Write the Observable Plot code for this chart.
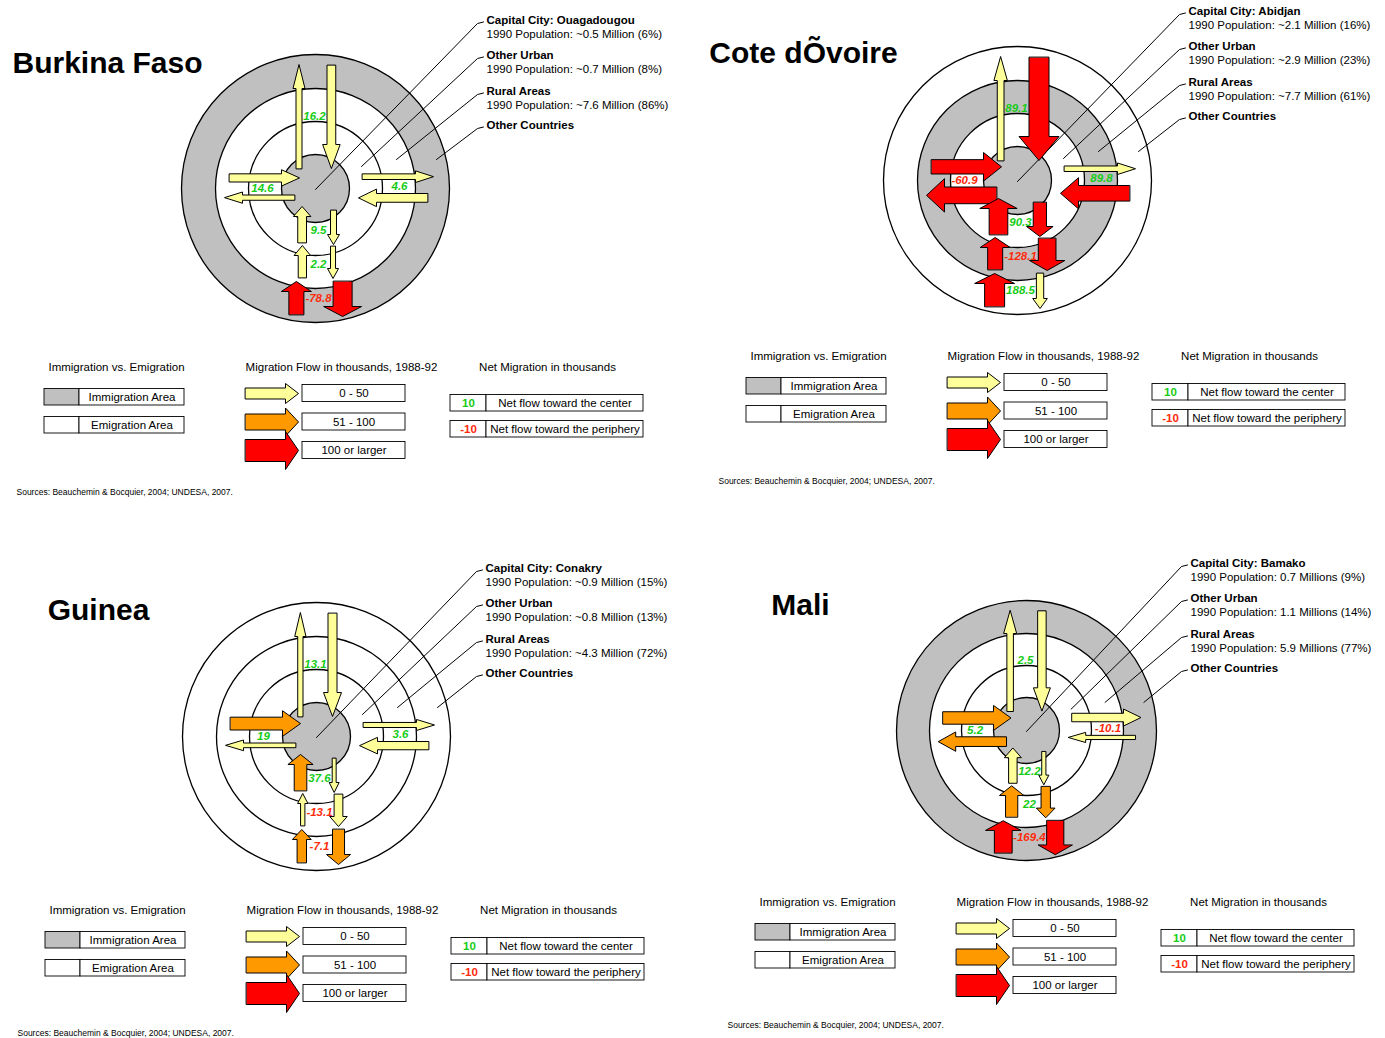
<!DOCTYPE html>
<html><head><meta charset="utf-8">
<script src="https://cdn.jsdelivr.net/npm/d3@7"></script>
<script src="https://cdn.jsdelivr.net/npm/@observablehq/plot@0.6"></script>
<style>body{margin:0;background:#fff;} svg{display:block;}</style>
</head><body><div id="chart"></div>
<script>
// ---------------- DATA ----------------
const countries = ["Burkina Faso", "Cote dÕvoire", "Guinea", "Mali"];
const capitals = ["Ouagadougou", "Abidjan", "Conakry", "Bamako"];
const areaNames = ["Capital City", "Other Urban", "Rural Areas", "Other Countries"];
const links = ["Capital–Other Countries", "Capital–Rural Areas", "Other Urban–Other Countries",
               "Capital–Other Urban", "Other Urban–Rural Areas", "Rural Areas–Other Countries"];

// Immigration / Emigration status of [capital, other urban, rural, other countries]
const statusBurkina = ["Immigration", "Emigration", "Emigration", "Immigration"];
const statusCote    = ["Immigration", "Emigration", "Immigration", "Emigration"];
const statusGuinea  = ["Immigration", "Emigration", "Emigration", "Emigration"];
const statusMali    = ["Immigration", "Emigration", "Emigration", "Immigration"];

// 1990 population labels [capital, other urban, rural]
const popBurkina = ["~0.5 Million (6%)", "~0.7 Million (8%)", "~7.6 Million (86%)"];
const popCote    = ["~2.1 Million (16%)", "~2.9 Million (23%)", "~7.7 Million (61%)"];
const popGuinea  = ["~0.9 Million (15%)", "~0.8 Million (13%)", "~4.3 Million (72%)"];
const popMali    = ["0.7 Millions (9%)", "1.1 Millions (14%)", "5.9 Millions (77%)"];

// migration flows (thousands, 1988-92) per link: toward the center / toward the periphery
const inBurkina  = [48, 43, 48, 48, 44, 129];
const outBurkina = [25, 19, 22, 25, 17, 186];
const netBurkina = [16.2, 14.6, 4.6, 9.5, 2.2, -78.8];

const inCote  = [200, 119, 137, 181, 129, 200];
const outCote = [31, 153, 21, 104, 167, 36];
const netCote = [89.1, -60.9, 89.8, 90.3, -128.1, 188.5];

const inGuinea  = [50, 98, 44, 95, 11, 55];
const outGuinea = [19, 14, 17, 8, 48, 88];
const netGuinea = [13.1, 19, 3.6, 37.6, -13.1, -7.1];

const inMali  = [48, 98, 11, 48, 95, 176];
const outMali = [31, 62, 48, 11, 58, 167];
const netMali = [2.5, 5.2, -10.1, 12.2, 22, -169.4];

const flowClasses = ["0 - 50", "51 - 100", "100 or larger"];
const flowBreaks = [50.5, 100.5];
const netExamples = [10, -10];
const netLabels = ["Net flow toward the center", "Net flow toward the periphery"];
const statusLabels = ["Immigration Area", "Emigration Area"];
const source = "Sources: Beauchemin & Bocquier, 2004; UNDESA, 2007.";

// ---------------- LAYOUT ----------------
const YELLOW = "#ffff99", ORANGE = "#ff9900", RED = "#ff0000", GRAY = "#c0c0c0";
const GREEN = "#16cc16", NEG = "#ff2a0a";
const LABEL_FS = 11.5;
const flowColor = d3.scaleThreshold().domain(flowBreaks).range([YELLOW, ORANGE, RED]);
const flowWidth = d3.scaleLinear().domain([0, 50, 100, 200]).range([3, 9, 13, 20]).clamp(true);
const textWidth = t => [...t].reduce((a, c) => a + (c === "." ? 0.278 : c === "-" ? 0.333 : 0.556), 0) * LABEL_FS;

const panels = [
  {cx: 315, cy: 188, s: 1, titleX: 107, titleY: 63, tx: 486, ty: 20, ly: 367, srcY: 492,
   status: statusBurkina, pop: popBurkina, inF: inBurkina, outF: outBurkina, net: netBurkina},
  {cx: 1017, cy: 180, s: 1, titleX: 803, titleY: 53, tx: 1188, ty: 11, ly: 356, srcY: 481,
   status: statusCote, pop: popCote, inF: inCote, outF: outCote, net: netCote},
  {cx: 316, cy: 736, s: 1, titleX: 98, titleY: 610, tx: 485, ty: 568, ly: 910, srcY: 1032.5,
   status: statusGuinea, pop: popGuinea, inF: inGuinea, outF: outGuinea, net: netGuinea},
  {cx: 1026, cy: 730, s: 0.97, titleX: 800, titleY: 605, tx: 1190, ty: 563, ly: 902, srcY: 1025,
   status: statusMali, pop: popMali, inF: inMali, outF: outMali, net: netMali}
];
const ringR = [34, 67, 100, 134];
const geom = [
  {axis: "y", sign: -1, lat0: -1, gap: 12.5, inR: [123, 20], outR: [20, 124], hl: 24, inSide: 1, label: [-1, -72], fit: false},
  {axis: "x", sign: -1, lat0: 0, gap: 6.5, inR: [86, 16], outR: [21, 91], hl: 18, inSide: -1, label: [-53, 0], fit: false},
  {axis: "x", sign: 1, lat0: -2, gap: 7, inR: [112, 43], outR: [47, 118], hl: 18, inSide: 1, label: [84, -2], fit: false},
  {axis: "y", sign: 1, lat0: 3, gap: 12, inR: [54, 18], outR: [22, 56], hl: 10, inSide: -1, label: [3, 42], fit: true},
  {axis: "y", sign: 1, lat0: 3, gap: 12, inR: [89, 57], outR: [58, 90], hl: 10, inSide: -1, label: [3, 76], fit: true},
  {axis: "y", sign: 1, lat0: 3, gap: 13, inR: [126, 93], outR: [93, 128], hl: 10, inSide: -1, label: [3, 110], fit: true}
];
const leaderStart = [[0, 1], [46, -22], [81, -29], [121, -29]];
const textOffsets = [0, 35, 71, 105];

function arrowPoints(id, x0, y0, x1, y1, w, hw, hl, fill) {
  const L = Math.hypot(x1 - x0, y1 - y0);
  const ux = (x1 - x0) / L, uy = (y1 - y0) / L, nx = -uy, ny = ux;
  const kx = x1 - ux * hl, ky = y1 - uy * hl;
  return [
    [x0 + nx * w / 2, y0 + ny * w / 2], [kx + nx * w / 2, ky + ny * w / 2], [kx + nx * hw, ky + ny * hw],
    [x1, y1], [kx - nx * hw, ky - ny * hw], [kx - nx * w / 2, ky - ny * w / 2], [x0 - nx * w / 2, y0 - ny * w / 2]
  ].map(([x, y]) => ({id, x, y, fill}));
}

const rings = [], arrows = [], netText = [], titles = [], infoText = [], leaders = [];
const legendRects = [], legendText = [], legendBold = [], legendArrows = [], headings = [], sources = [];

panels.forEach((p, pi) => {
  const {cx, cy, s} = p;
  titles.push({x: p.titleX, y: p.titleY, text: countries[pi]});
  for (let k = 3; k >= 0; k--) rings.push({x: cx, y: cy, r: ringR[k] * s, fill: p.status[k] === "Immigration" ? GRAY : "white"});
  geom.forEach((g, li) => {
    const v = p.net[li];
    const label = String(v);
    const gap = g.fit ? Math.max(g.gap, textWidth(label) / 2 + 1.5) : g.gap;
    [["in", p.inF[li], g.inR, g.inSide], ["out", p.outF[li], g.outR, -g.inSide]].forEach(([dir, f, R, side]) => {
      const w = flowWidth(f) * s;
      const lat = (g.lat0 + side * (gap + flowWidth(f) / 2)) * s;
      let x0, y0, x1, y1;
      if (g.axis === "y") { x0 = x1 = cx + lat; y0 = cy + g.sign * R[0] * s; y1 = cy + g.sign * R[1] * s; }
      else { y0 = y1 = cy + lat; x0 = cx + g.sign * R[0] * s; x1 = cx + g.sign * R[1] * s; }
      arrows.push(...arrowPoints(`${pi}-${li}-${dir}`, x0, y0, x1, y1, w, Math.max(w, w / 2 + 3), g.hl * s, flowColor(f)));
    });
    netText.push({x: cx + g.label[0] * s, y: cy + g.label[1] * s, text: label, fill: v >= 0 ? GREEN : NEG});
  });
  // area descriptions + leader lines
  areaNames.forEach((name, k) => {
    const yk = p.ty + textOffsets[k];
    infoText.push({x: p.tx, y: yk, text: k === 0 ? `${name}: ${capitals[pi]}` : name, bold: true});
    if (k < 3) infoText.push({x: p.tx, y: yk + 14, text: `1990 Population: ${p.pop[k]}`, bold: false});
    const id = `${pi}-L${k}`;
    leaders.push({id, x: cx + leaderStart[k][0] * s, y: cy + leaderStart[k][1] * s},
                 {id, x: p.tx - 9, y: yk + 3}, {id, x: p.tx - 3, y: yk + 1.5});
  });
  // legends
  const ly = p.ly;
  headings.push({x: cx - 199, y: ly, text: "Immigration vs. Emigration"},
                {x: cx + 26, y: ly, text: "Migration Flow in thousands, 1988-92"},
                {x: cx + 232, y: ly, text: "Net Migration in thousands"});
  statusLabels.forEach((lab, i) => {
    const y1 = ly + 21.5 + i * 28, y2 = y1 + 16.5;
    legendRects.push({x1: cx - 271, x2: cx - 236, y1, y2, fill: i === 0 ? GRAY : "white"},
                     {x1: cx - 236, x2: cx - 131, y1, y2, fill: "white"});
    legendText.push({x: cx - 183.5, y: (y1 + y2) / 2, text: lab});
  });
  const shafts = [11, 16, 22], heads = [20, 28, 38];
  flowClasses.forEach((lab, i) => {
    const y1 = ly + 17.5 + i * 28.5, y2 = y1 + 17, yc = (y1 + y2) / 2;
    legendRects.push({x1: cx - 13, x2: cx + 90, y1, y2, fill: "white"});
    legendText.push({x: cx + 38.5, y: yc, text: lab});
    legendArrows.push(...arrowPoints(`${pi}-leg${i}`, cx - 70, yc, cx - 17, yc, shafts[i], heads[i] / 2, 13, [YELLOW, ORANGE, RED][i]));
  });
  netExamples.forEach((v, i) => {
    const y1 = ly + 27.5 + i * 26, y2 = y1 + 16.5, yc = (y1 + y2) / 2;
    legendRects.push({x1: cx + 135, x2: cx + 171, y1, y2, fill: "white"},
                     {x1: cx + 171, x2: cx + 328, y1, y2, fill: "white"});
    legendBold.push({x: cx + 153, y: yc, text: String(v), fill: v >= 0 ? GREEN : NEG});
    legendText.push({x: cx + 249.5, y: yc, text: netLabels[i]});
  });
  sources.push({x: cx - 299, y: p.srcY, text: source});
});

const chart = Plot.plot({
  width: 1385, height: 1038, margin: 0,
  x: {domain: [0, 1385], range: [0, 1385], axis: null},
  y: {domain: [0, 1038], range: [0, 1038], axis: null},
  r: {type: "identity"},
  color: {type: "identity"},
  style: {fontFamily: "'Liberation Sans', Arial, sans-serif", background: "white"},
  marks: [
    Plot.dot(rings, {x: "x", y: "y", r: "r", fill: "fill", stroke: "black", strokeWidth: 1.3}),
    Plot.line(leaders, {x: "x", y: "y", z: "id", stroke: "black", strokeWidth: 1}),
    Plot.line(arrows, {x: "x", y: "y", z: "id", fill: "fill", stroke: "black", strokeWidth: 1, curve: "linear-closed", strokeLinejoin: "miter"}),
    Plot.text(netText, {x: "x", y: "y", text: "text", fill: "fill", fontSize: LABEL_FS, fontWeight: "bold", fontStyle: "italic"}),
    Plot.text(titles, {x: "x", y: "y", text: "text", fontSize: 30, fontWeight: "bold", fill: "black"}),
    Plot.text(infoText.filter(d => d.bold), {x: "x", y: "y", text: "text", textAnchor: "start", fontSize: 11.5, fontWeight: "bold", fill: "black"}),
    Plot.text(infoText.filter(d => !d.bold), {x: "x", y: "y", text: "text", textAnchor: "start", fontSize: 11.5, fill: "black"}),
    Plot.text(headings, {x: "x", y: "y", text: "text", fontSize: 11.5, fill: "black"}),
    Plot.rect(legendRects, {x1: "x1", x2: "x2", y1: "y1", y2: "y2", fill: "fill", stroke: "black", strokeWidth: 0.9}),
    Plot.line(legendArrows, {x: "x", y: "y", z: "id", fill: "fill", stroke: "black", strokeWidth: 1, curve: "linear-closed", strokeLinejoin: "miter"}),
    Plot.text(legendText, {x: "x", y: "y", text: "text", fontSize: 11.5, fill: "black"}),
    Plot.text(legendBold, {x: "x", y: "y", text: "text", fill: "fill", fontSize: 11.5, fontWeight: "bold"}),
    Plot.text(sources, {x: "x", y: "y", text: "text", textAnchor: "start", fontSize: 8.5, fill: "black"})
  ]
});
document.getElementById("chart").appendChild(chart);
</script>
</body></html>
